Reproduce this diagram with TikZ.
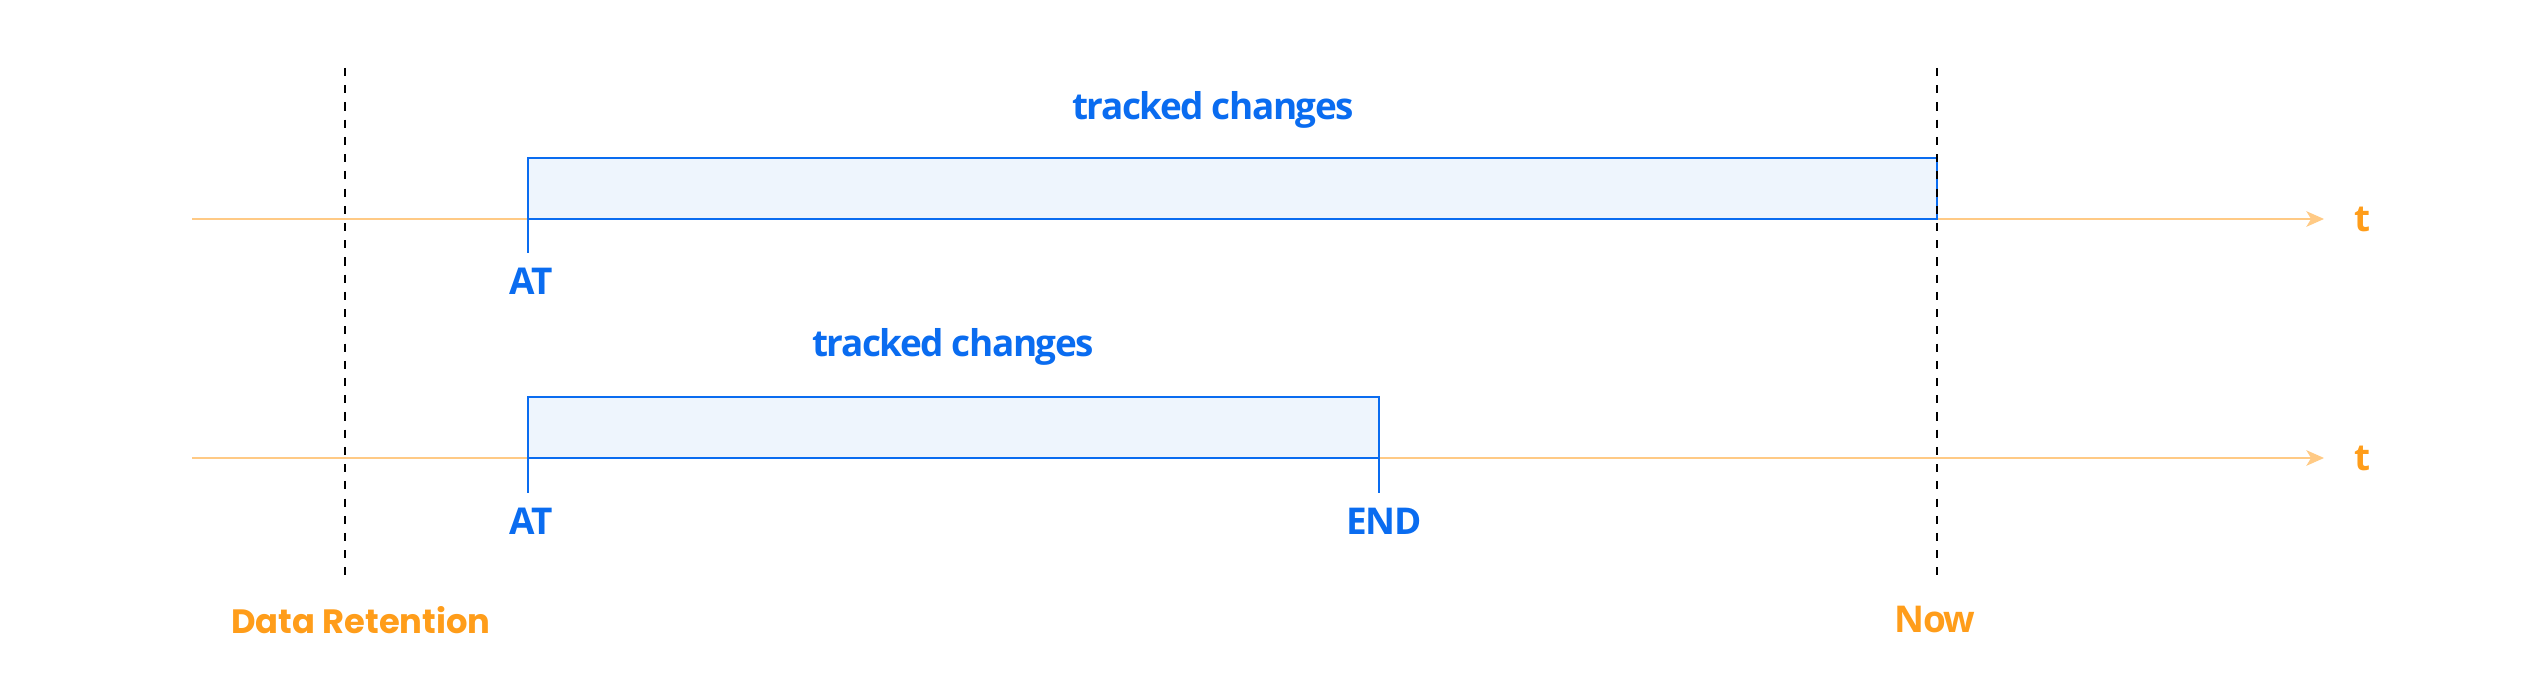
\documentclass[tikz,border=0pt]{standalone}
\usepackage{fontspec}
\setmainfont{Open Sans}[LetterSpace=-4]
\newfontfamily\poppins{Poppins}
\usepackage{tikz}
\usetikzlibrary{calc,arrows.meta}

\definecolor{tblue}{HTML}{0A6CF0}
\definecolor{tfill}{HTML}{EEF5FD}
\definecolor{taxis}{HTML}{FFCA85}
\definecolor{torange}{HTML}{FF9D1A}

\tikzset{
  axisline/.style={draw=taxis,line width=0.7pt,-{Stealth[length=5pt,width=4.4pt,inset=1.3pt]}},
  cutline/.style={draw=black,line width=0.8pt,dash pattern=on 2.3pt off 2.6pt},
  span/.style={draw=tblue,fill=tfill,line width=0.7pt},
  tick/.style={draw=tblue,line width=0.7pt},
  bluetxt/.style={text=tblue,font=\fontsize{10.5}{12}\selectfont\bfseries,inner sep=0pt},
  oratxt/.style={text=torange,font=\fontsize{10.5}{12}\selectfont\bfseries,inner sep=0pt}
}

\begin{document}
\begin{tikzpicture}
                      \useasboundingbox (0,0) rectangle (25.4,6.81);
                      % time axes
                      \coordinate (ax1s) at (1.92,4.62);
                      \coordinate (ax1e) at (23.24,4.62);
                      \coordinate (ax2s) at (1.92,2.23);
                      \coordinate (ax2e) at (23.24,2.23);
                      \draw[axisline] (ax1s) -- (ax1e);
                      \draw[axisline] (ax2s) -- (ax2e);
                      \node[oratxt](t1)at(23.62,4.62){t};
                      \node[oratxt](t2)at(23.62,2.23){t};
                      % tracked spans
                      \coordinate (at1) at (5.28,4.62);
                      \coordinate (at2) at (5.28,2.23);
                      \coordinate (end2) at (13.79,2.23);
                      \draw[span] (at1) rectangle (19.37,5.23);
                      \draw[span] (at2) rectangle ($(end2)+(0,0.61)$);
                      \draw[tick] (at1) -- ++(0,-0.34);
                      \draw[tick] (at2) -- ++(0,-0.35);
                      \draw[tick] (end2) -- ++(0,-0.35);
                      \node[bluetxt,anchor=base](tc1)at(12.13,5.61){tracked changes};
                      \node[bluetxt,anchor=base](tc2)at(9.53,3.24){tracked changes};
                      \node[bluetxt](lat1)at(5.31,4.00){AT};
                      \node[bluetxt](lat2)at(5.31,1.60){AT};
                      \node[bluetxt](lend)at(13.84,1.60){END};
                      % retention and now
                      \coordinate (rett) at (3.45,6.13);
                      \coordinate (retb) at (3.45,1.06);
                      \coordinate (nowt) at (19.37,6.13);
                      \coordinate (nowb) at (19.37,1.06);
                      \draw[cutline] (rett) -- (retb);
                      \draw[cutline] (nowt) -- (nowb);
                      \node[oratxt,font=\fontsize{9.6}{11}\poppins\bfseries](ret)at(3.61,0.61){Data Retention};
                      \node[oratxt](now)at(19.35,0.61){Now};
                  \end{tikzpicture}
\end{document}
